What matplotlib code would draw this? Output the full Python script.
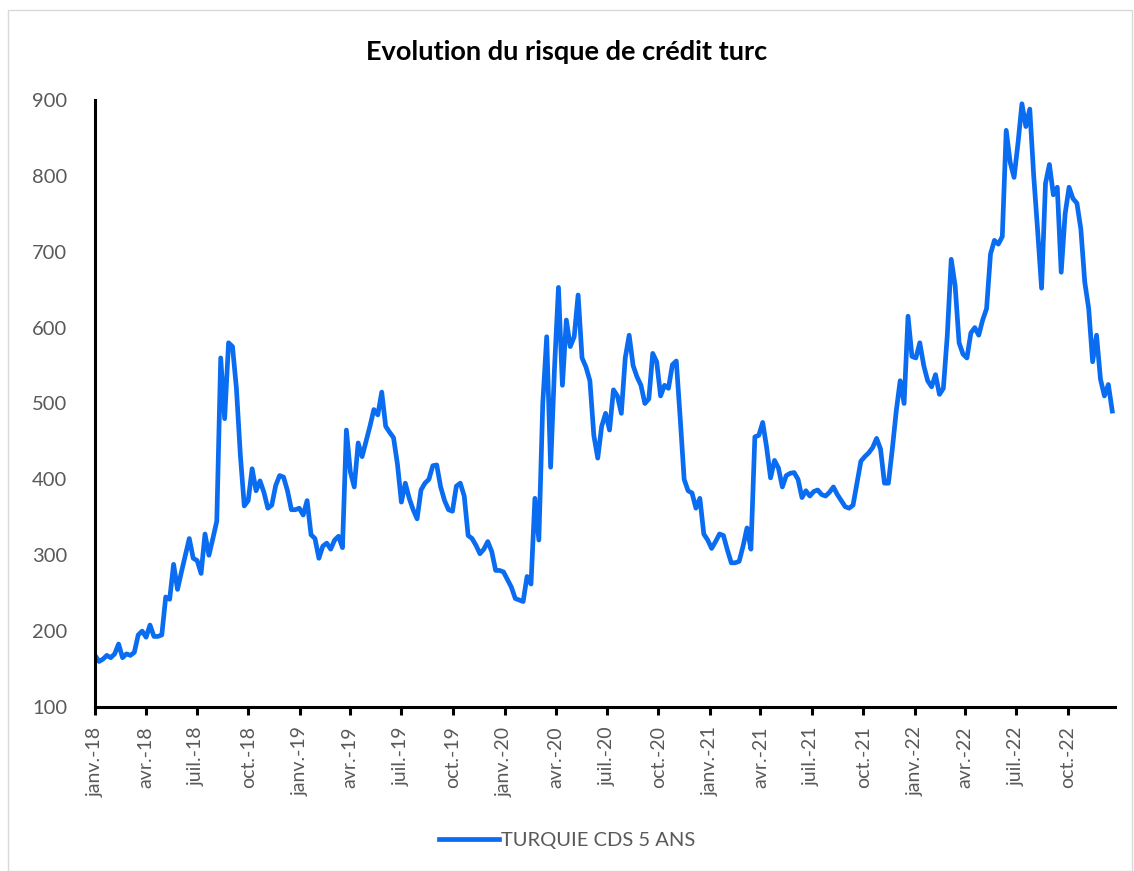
import numpy as np
import pandas as pd
import matplotlib
matplotlib.use('Agg')
import matplotlib.pyplot as plt
from matplotlib.patches import Rectangle

plt.rcParams['font.family'] = ['Lato', 'DejaVu Sans']

# weekly 5Y CDS spread for Turkey (bp), starting monday 1 Jan 2018
cds_2018 = [168, 160, 163, 168, 165, 170, 183, 165, 170, 168, 172, 195, 200, 192,
            208, 193, 193, 195, 245, 242, 288, 255, 278, 300, 322, 296, 293, 276,
            328, 300, 322, 345, 560, 480, 580, 575, 520, 432, 365, 372, 414, 385,
            398, 383, 362, 366, 392, 405, 403, 385, 360, 360]
cds_2019 = [362, 353, 372, 327, 322, 296, 312, 316, 308, 320, 325, 310, 465, 410,
            390, 448, 430, 450, 470, 492, 485, 515, 470, 462, 455, 420, 370, 395,
            375, 360, 348, 386, 395, 400, 418, 419, 390, 372, 360, 358, 391, 395,
            378, 326, 322, 313, 302, 308, 318, 305, 280, 280]
cds_2020 = [278, 268, 258, 243, 241, 239, 272, 262, 375, 320, 500, 588, 416, 548,
            653, 524, 610, 575, 588, 643, 560, 548, 530, 458, 428, 470, 487, 465,
            518, 510, 487, 560, 590, 550, 535, 524, 500, 506, 566, 555, 510, 524,
            520, 551, 556, 480, 400, 385, 382, 362, 375, 328]
cds_2021 = [320, 309, 318, 328, 326, 307, 290, 290, 292, 312, 336, 308, 456, 458,
            475, 442, 402, 425, 415, 390, 405, 408, 409, 400, 376, 385, 378, 384,
            386, 380, 378, 383, 390, 380, 372, 364, 362, 366, 395, 424, 430, 435,
            442, 454, 440, 395, 395, 440, 490, 530, 500, 615]
cds_2022 = [562, 560, 580, 550, 530, 522, 538, 512, 520, 590, 690, 655, 580, 565,
            560, 593, 600, 590, 610, 625, 697, 715, 710, 720, 860, 818, 798, 843,
            895, 865, 888, 800, 728, 652, 790, 815, 775, 785, 673, 750, 785, 770,
            764, 730, 660, 625, 555, 590, 532, 510, 525, 490]

cds = cds_2018 + cds_2019 + cds_2020 + cds_2021 + cds_2022
dates = pd.date_range('2018-01-01', periods=len(cds), freq='7D')

tick_labels = ['janv.-18', 'avr.-18', 'juil.-18', 'oct.-18',
               'janv.-19', 'avr.-19', 'juil.-19', 'oct.-19',
               'janv.-20', 'avr.-20', 'juil.-20', 'oct.-20',
               'janv.-21', 'avr.-21', 'juil.-21', 'oct.-21',
               'janv.-22', 'avr.-22', 'juil.-22', 'oct.-22']
tick_dates = pd.date_range('2018-01-01', periods=len(tick_labels), freq='QS')

grey = '#595959'
blue = '#0a6cf0'

fig = plt.figure(figsize=(11.34, 8.71), dpi=100)
ax = fig.add_axes([0.0838, 0.1883, 0.8995, 0.6969])

ax.plot(dates, cds, color=blue, lw=3.4, solid_joinstyle='round',
        label='TURQUIE CDS 5 ANS')

ax.set_ylim(100, 900)
ax.set_yticks(np.arange(100, 901, 100))
ax.set_xlim(pd.Timestamp('2018-01-01'), pd.Timestamp('2022-12-24'))
ax.set_xticks(tick_dates)
ax.set_xticklabels(tick_labels, rotation=90)

for side in ['top', 'right']:
    ax.spines[side].set_visible(False)
for side in ['left', 'bottom']:
    ax.spines[side].set_color('black')
    ax.spines[side].set_linewidth(2.2)

ax.tick_params(axis='y', length=0, pad=20, labelsize=14.5, labelcolor=grey)
ax.tick_params(axis='x', length=6, width=2.2, color='black', pad=8,
               labelsize=14, labelcolor=grey)

fig.text(0.5, 1 - 52 / 871, 'Evolution du risque de crédit turc',
         ha='center', va='center', fontsize=19.5, fontweight='bold', color='black')

leg = fig.legend(loc='center', bbox_to_anchor=(0.5, 1 - 840 / 871), frameon=False,
                 fontsize=14.5, handlelength=3.0, handletextpad=0.1)
for t in leg.get_texts():
    t.set_color(grey)

# light chart-area border
fig.patches.append(Rectangle((0.007, 0.0), 0.991, 0.989, transform=fig.transFigure,
                             fill=False, edgecolor='#d9d9d9', lw=1.0))

fig.savefig('out.png', dpi=100)
